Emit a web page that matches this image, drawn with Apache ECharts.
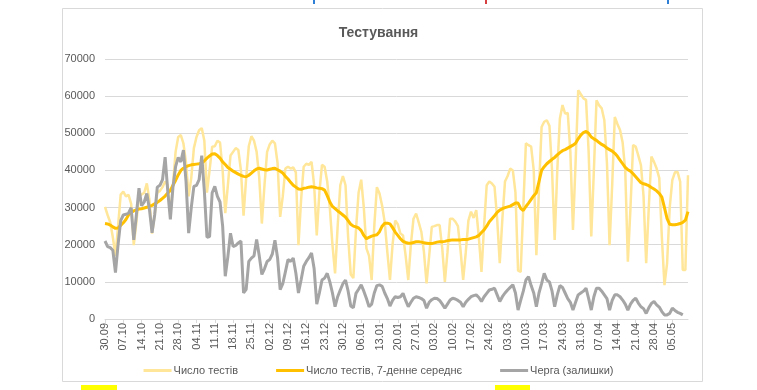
<!DOCTYPE html>
<html>
<head>
<meta charset="utf-8">
<script src="https://cdn.jsdelivr.net/npm/echarts@6/dist/echarts.min.js"></script>
<style>
html,body{margin:0;padding:0;background:#fff;}
#chart{width:757px;height:390px;}
</style>
</head>
<body>
<div id="chart"></div>
<script>
const dates = [
"30.09",
"01.10","02.10","03.10","04.10","05.10","06.10","07.10","08.10","09.10","10.10","11.10","12.10","13.10","14.10","15.10","16.10","17.10","18.10","19.10","20.10","21.10","22.10","23.10","24.10","25.10","26.10","27.10","28.10","29.10","30.10","31.10",
"01.11","02.11","03.11","04.11","05.11","06.11","07.11","08.11","09.11","10.11","11.11","12.11","13.11","14.11","15.11","16.11","17.11","18.11","19.11","20.11","21.11","22.11","23.11","24.11","25.11","26.11","27.11","28.11","29.11","30.11",
"01.12","02.12","03.12","04.12","05.12","06.12","07.12","08.12","09.12","10.12","11.12","12.12","13.12","14.12","15.12","16.12","17.12","18.12","19.12","20.12","21.12","22.12","23.12","24.12","25.12","26.12","27.12","28.12","29.12","30.12","31.12",
"01.01","02.01","03.01","04.01","05.01","06.01","07.01","08.01","09.01","10.01","11.01","12.01","13.01","14.01","15.01","16.01","17.01","18.01","19.01","20.01","21.01","22.01","23.01","24.01","25.01","26.01","27.01","28.01","29.01","30.01","31.01",
"01.02","02.02","03.02","04.02","05.02","06.02","07.02","08.02","09.02","10.02","11.02","12.02","13.02","14.02","15.02","16.02","17.02","18.02","19.02","20.02","21.02","22.02","23.02","24.02","25.02","26.02","27.02","28.02",
"01.03","02.03","03.03","04.03","05.03","06.03","07.03","08.03","09.03","10.03","11.03","12.03","13.03","14.03","15.03","16.03","17.03","18.03","19.03","20.03","21.03","22.03","23.03","24.03","25.03","26.03","27.03","28.03","29.03","30.03","31.03",
"01.04","02.04","03.04","04.04","05.04","06.04","07.04","08.04","09.04","10.04","11.04","12.04","13.04","14.04","15.04","16.04","17.04","18.04","19.04","20.04","21.04","22.04","23.04","24.04","25.04","26.04","27.04","28.04","29.04","30.04",
"01.05","02.05","03.05","04.05","05.05","06.05","07.05","08.05","09.05","10.05","11.05"
];

const tests = [
30200,28000,26000,22000,17000,25000,33500,
34300,33000,33400,31000,19900,26000,33000,
33500,34000,36500,32000,23000,28000,34000,
34500,35500,37000,36000,28000,36000,45000,
49000,49500,47300,42000,33000,38000,46000,
49000,50800,51400,48000,34000,40000,46400,
46500,48000,47500,40000,28500,36000,44000,
45000,46000,45500,40000,27800,38000,46500,
49200,48000,45000,38000,25700,36000,45000,
47000,48000,47300,42000,27500,33000,40500,
41000,40500,40800,39500,19900,32000,41000,
41800,41500,42300,36000,22500,34000,41500,
41000,37000,30000,20000,12300,25000,36000,
38500,36000,22000,12000,11000,24000,34000,
37500,30000,19000,17000,10500,25000,35500,
33800,30500,26000,18000,10500,20000,26500,
25500,23000,22500,17000,10500,20000,27000,
28400,26000,23500,18000,9600,17000,24800,
25000,25300,25300,19000,10000,18000,27000,
27000,26200,25000,18500,10500,18000,26500,
28900,27200,29300,22000,12700,25000,36000,
37000,36500,35600,27000,15000,27000,37000,
38500,40500,40000,34000,13000,12700,30000,
47300,46800,46400,40000,17200,35000,51700,
53100,53500,52000,40000,21300,40000,54000,
57600,55300,55500,45000,24000,42000,61600,
60500,59400,59000,45000,22200,40000,58900,
57500,56700,53500,42000,19900,36000,54400,
52500,50900,47500,40000,15400,30000,46800,
46400,44000,41400,33000,15000,30000,43700,
42300,40500,38000,22000,9100,15000,30000,
37400,39500,39600,37000,13200,13200,38700
];

const testsAvg7 = [
25700,25600,25300,24800,24400,24500,25200,
25900,26800,28000,28700,29100,29400,29600,
29700,29900,30100,30300,30600,31000,31400,
31900,32500,33100,33900,34600,36000,37300,
38800,40000,40600,41000,41300,41500,41600,
41700,41800,42000,42600,43300,43900,44400,
44500,44000,43300,42300,41600,40800,40300,
39800,39400,39000,38700,38400,38300,38700,
39300,39900,40400,40600,40400,40200,40100,
40300,40500,40600,40200,39800,39300,38400,
37700,36800,36000,35500,35000,34900,35200,
35300,35500,35600,35500,35300,35200,35100,
34700,33200,31500,30300,29700,29100,28600,
28000,27400,26500,25500,25000,24800,24500,
23800,22500,21600,22000,22300,22500,22700,
23500,25000,25800,25800,25600,24600,23400,
22500,21600,20900,20600,20400,20400,20600,
20800,20800,20700,20500,20400,20300,20300,
20500,20700,20800,20800,20900,21100,21200,
21300,21300,21300,21300,21400,21400,21500,
21700,21900,22100,22500,23300,24000,25000,
26200,27000,27800,28700,29300,29700,30000,
30200,30400,30800,31200,31200,29800,29200,
30300,31200,32200,33200,34000,37000,40000,
41000,41800,42400,43000,43500,44200,44800,
45300,45600,46000,46400,46800,47300,48500,
49500,50200,50500,50000,49000,48500,48100,
47500,47000,46600,46000,45600,45200,44600,
43800,42800,41800,40800,40200,39800,39100,
38300,37500,36700,36400,36200,35900,35400,
35000,34500,33800,32800,30000,27000,25500,
25400,25400,25500,25700,26000,26600,28900
];

const queue = [
21000,19500,19200,18500,12500,20000,26500,
28000,28200,28500,30000,21300,28000,35200,
30500,31500,33800,29500,23200,28000,35500,
36000,37500,43600,34500,26800,35500,41000,
43500,42300,45500,37000,23100,30000,35700,
36000,37500,44000,34500,22000,22200,34000,
35700,33000,31500,25000,11500,16800,23100,
19500,19800,20500,21000,7000,8000,15500,
16400,17000,21400,17000,12000,13500,15500,
16000,17500,21200,16500,7900,9500,12700,
16000,15500,16400,12400,7000,10500,14200,
15500,16500,17800,13500,4000,7000,10500,
11000,12300,10000,7000,3300,6000,7800,
9500,10500,7500,3500,3000,6900,8000,
9200,7500,5500,3300,4000,7000,9000,
9200,8800,7000,5500,3500,5000,6000,
5800,6000,6900,5000,3300,4500,5600,
6000,5800,5500,5000,2900,4500,5200,
5600,5500,5000,4000,2900,4000,5100,
5600,5400,5000,4500,3300,4500,5300,
6000,6300,6500,5800,4700,6000,6900,
7800,8000,8300,6500,4700,6000,7000,
7800,8500,9200,7000,2400,5000,7500,
10500,11400,9000,7000,3300,7000,9500,
12300,10500,10000,7500,3300,6500,9000,
8500,7000,5500,4500,2400,4500,6500,
7000,7500,8300,5500,2400,6000,8300,
8300,7500,6500,5500,2400,5000,6500,
6500,6000,5100,4000,2400,4000,5000,
5600,4300,3300,2800,1500,3000,4200,
4700,3800,3200,2000,1100,1100,1500,
2900,2300,1800,1500,1100,null,null
];

const seriesNames = ["Число тестів", "Число тестів, 7-денне середнє", "Черга (залишки)"];
const titleText = "Тестування";
const yTicks = [0, 10000, 20000, 30000, 40000, 50000, 60000, 70000];

const FONT = "'Liberation Sans Narrow','Liberation Sans',Arial,sans-serif";
const chart = echarts.init(document.getElementById('chart'), null, {renderer: 'canvas'});
chart.setOption({
  animation: false,
  backgroundColor: '#ffffff',
  title: {
    text: titleText,
    left: 'center',
    top: 21,
    textStyle: {fontFamily: FONT, fontSize: 14, fontWeight: 'bold', color: '#595959'}
  },
  legend: {
    top: 360,
    left: 'center',
    icon: 'rect',
    itemWidth: 28,
    itemHeight: 3,
    itemGap: 38,
    textStyle: {fontFamily: FONT, fontSize: 11, color: '#595959', padding: [0,0,0,-3]},
    data: seriesNames
  },
  grid: {left: 105, right: 69, top: 59, bottom: 71, containLabel: false},
  xAxis: {
    type: 'category',
    data: dates,
    boundaryGap: false,
    axisLine: {lineStyle: {color: '#d9d9d9', width: 1}},
    axisTick: {show: true, interval: 6, length: 4, lineStyle: {color: '#d9d9d9'}},
    axisLabel: {interval: 6, rotate: 90, fontFamily: FONT, fontSize: 11, color: '#595959', margin: 4},
    splitLine: {show: false}
  },
  yAxis: {
    type: 'value',
    min: yTicks[0],
    max: yTicks[yTicks.length - 1],
    interval: 10000,
    axisLine: {show: false},
    axisTick: {show: false},
    axisLabel: {fontFamily: FONT, fontSize: 11, color: '#595959', margin: 10, formatter: function (v) { return String(v); }},
    splitLine: {lineStyle: {color: '#d9d9d9', width: 1}}
  },
  series: [
    {name: seriesNames[0], type: 'line', data: tests, symbol: 'none',
     lineStyle: {color: '#ffe699', width: 2.5}, itemStyle: {color: '#ffe699'}, z: 2},
    {name: seriesNames[1], type: 'line', data: testsAvg7, symbol: 'none',
     lineStyle: {color: '#ffc000', width: 3}, itemStyle: {color: '#ffc000'}, z: 3},
    {name: seriesNames[2], type: 'line', data: queue, symbol: 'none', connectNulls: false,
     lineStyle: {color: '#a5a5a5', width: 3}, itemStyle: {color: '#a5a5a5'}, z: 4}
  ],
  graphic: [
    {type: 'rect', shape: {x: 62.5, y: 8.5, width: 640, height: 373}, style: {fill: 'none', stroke: '#d9d9d9', lineWidth: 1}, silent: true},
    {type: 'rect', shape: {x: 313, y: 0, width: 2, height: 4}, style: {fill: '#2f7fd6'}, silent: true},
    {type: 'rect', shape: {x: 485, y: 0, width: 2, height: 4}, style: {fill: '#d64040'}, silent: true},
    {type: 'rect', shape: {x: 667, y: 0, width: 2, height: 4}, style: {fill: '#2f7fd6'}, silent: true},
    {type: 'rect', shape: {x: 81, y: 385, width: 36, height: 5}, style: {fill: '#ffff00'}, silent: true},
    {type: 'rect', shape: {x: 495, y: 385, width: 35, height: 5}, style: {fill: '#ffff00'}, silent: true}
  ]
});
</script>
</body>
</html>
